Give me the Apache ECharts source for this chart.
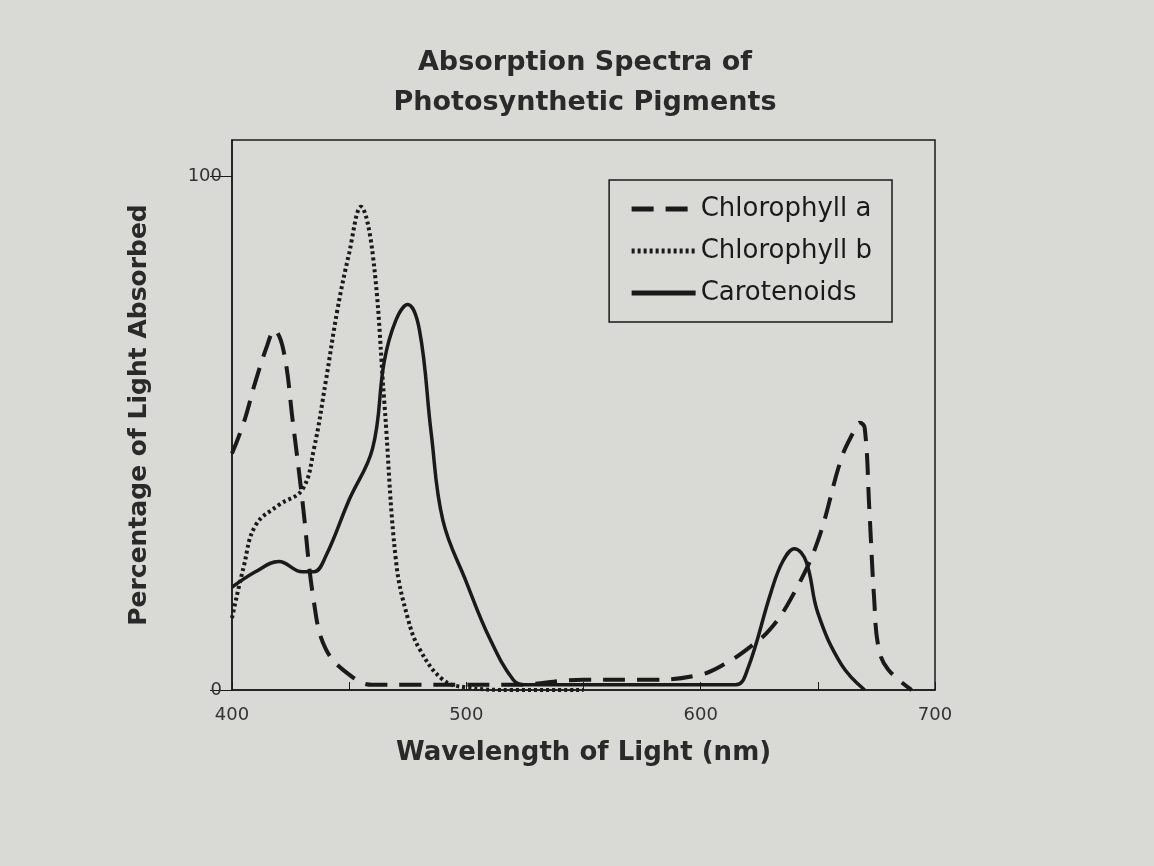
<!DOCTYPE html>
<html lang="en">
<head>
    <meta charset="UTF-8">
    <title>Absorption Spectra</title>
    <script src="https://cdn.jsdelivr.net/npm/echarts@6/dist/echarts.min.js"></script>
    <style>
        body { margin: 0; background: #d9d9d5; }
    </style>
</head>
<body>
    <div id="main" style="width:1154px;height:866px"></div>
    <script>
        // [wavelength nm, % absorbed]
        var chlA = [[400,46],[405,52],[410,60],[415,67],[418,70],[422,66],[426,52],[430,37],[435,17],[440,8],[450,3],[460,1],[480,1],[500,1],[520,1],[550,2],[580,2],[600,3],[610,5],[620,8],[630,12],[640,19],[650,29],[660,45],[665,50],[668,52],[670,51],[672,35],[674,18],[676,8],[680,4],[690,0]];
        var chlB = [[400,14],[405,24],[410,32],[420,36],[430,39],[435,47],[440,60],[445,74],[450,85],[455,94],[460,85],[465,56],[470,25],[475,14],[480,8],[490,2],[500,0.5],[520,0],[550,0]];
        var carot = [[400,20],[410,23],[420,25],[430,23],[435,23],[440,26],[450,37],[460,47],[465,64],[470,72],[475,75],[480,70],[485,50],[490,33],[500,21],[510,10],[520,2],[525,1],[550,1],[580,1],[615,1],[620,4],[630,19],[635,25],[640,27.5],[645,25],[650,15],[660,5],[670,0]];
        var xTicks = [400, 500, 600, 700];
        var yTicks = [0, 100];

        var chart = echarts.init(document.getElementById('main'));
        var font = '"DejaVu Sans", sans-serif';
        function line(name, data, type, width) {
            return {
                name: name, type: 'line', data: data, smooth: 0.4, symbol: 'none',
                lineStyle: { color: '#1a1a1a', width: width, type: type },
                itemStyle: { color: '#1a1a1a' }
            };
        }
        chart.setOption({
            backgroundColor: '#d9d9d5',
            title: {
                text: 'Absorption Spectra of\nPhotosynthetic Pigments',
                left: 580, top: 38, textAlign: 'center',
                textStyle: { fontFamily: font, fontSize: 27, fontWeight: 'bold', color: '#2a2a2a', lineHeight: 40 }
            },
            legend: {
                orient: 'vertical', right: 262, top: 180,
                backgroundColor: '#d9d9d5', borderColor: '#1a1a1a', borderWidth: 1.5,
                padding: [16, 20], itemGap: 16, itemWidth: 64,
                itemStyle: { opacity: 0 },
                lineStyle: { width: 5 },
                textStyle: { fontFamily: font, fontSize: 26, color: '#1a1a1a' },
                data: ['Chlorophyll a', 'Chlorophyll b', 'Carotenoids']
            },
            grid: { left: 232, right: 219, top: 140, bottom: 176, show: true, borderColor: '#1a1a1a', borderWidth: 1.5 },
            xAxis: {
                type: 'value', min: 400, max: 700, interval: 50,
                name: 'Wavelength of Light (nm)', nameLocation: 'middle', nameGap: 50,
                nameTextStyle: { fontFamily: font, fontSize: 26, fontWeight: 'bold', color: '#2a2a2a' },
                axisLine: { lineStyle: { color: '#1a1a1a', width: 1.5 } },
                axisTick: { inside: true, length: 8, lineStyle: { color: '#1a1a1a' } },
                splitLine: { show: false },
                axisLabel: {
                    margin: 16, fontFamily: font, fontSize: 18, color: '#333',
                    formatter: function (v) { return xTicks.indexOf(v) >= 0 ? String(v) : ''; }
                }
            },
            yAxis: {
                type: 'value', min: 0, max: 107, interval: 100,
                name: 'Percentage of Light Absorbed', nameLocation: 'middle', nameGap: 80,
                nameTextStyle: { fontFamily: font, fontSize: 25, fontWeight: 'bold', color: '#2a2a2a' },
                axisLine: { lineStyle: { color: '#1a1a1a', width: 1.5 } },
                axisTick: { length: 22, customValues: yTicks, lineStyle: { color: '#1a1a1a' } },
                splitLine: { show: false },
                axisLabel: {
                    margin: 10, fontFamily: font, fontSize: 18, color: '#333',
                    customValues: yTicks
                }
            },
            series: [
                line('Chlorophyll a', chlA, [22, 12], 4),
                line('Chlorophyll b', chlB, [3, 3], 4),
                line('Carotenoids', carot, 'solid', 3.5)
            ]
        });
    </script>
</body>
</html>
